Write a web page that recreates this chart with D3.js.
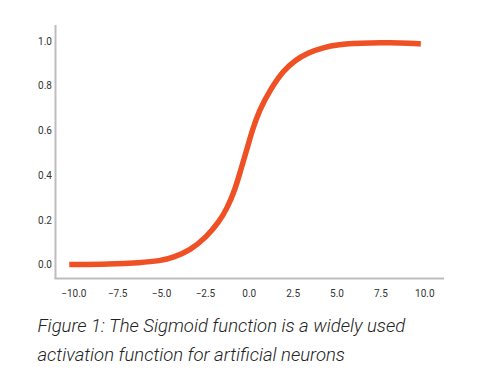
<!DOCTYPE html>
<html>
<head>
<meta charset="utf-8">
<script src="https://cdn.jsdelivr.net/npm/d3@7"></script>
<style>
  html, body { margin: 0; padding: 0; background: #fff; }
  svg { display: block; }
  .axis-label { font-family: Roboto, "Noto Sans", sans-serif; font-size: 10px; fill: #333; }
  .caption { font-family: Roboto, "Open Sans", sans-serif; font-size: 18.5px; font-style: italic; font-weight: 300; fill: #222; }
</style>
</head>
<body>
<svg id="chart" width="477" height="387"></svg>
<script>
// values
var sigmoidX = [-10.23, -7.91, -6.2, -5.06, -4.3, -3.35, -2.4, -1.7, -1.24, -0.79, -0.46, -0.12,
  0.2, 0.6, 1.21, 1.97, 2.63, 3.3, 4.25, 5.2, 5.9, 6.91, 8.05, 9.19, 9.8];
var sigmoidY = [0.0, 0.002, 0.008, 0.016, 0.032, 0.063, 0.124, 0.19, 0.251, 0.333, 0.423, 0.512,
  0.602, 0.691, 0.781, 0.868, 0.913, 0.945, 0.972, 0.984, 0.989, 0.992, 0.992, 0.99, 0.987];
var xTicks = [-10, -7.5, -5, -2.5, 0, 2.5, 5, 7.5, 10];
var yTicks = [0, 0.2, 0.4, 0.6, 0.8, 1.0];
var captionLines = [
  'Figure 1: The Sigmoid function is a widely used',
  'activation function for artificial neurons'
];

var svg = d3.select('#chart');

var x = d3.scaleLinear().domain([-10, 10]).range([73.3, 424.3]);
var y = d3.scaleLinear().domain([0, 1]).range([264.5, 41]);

var points = sigmoidX.map(function (v, i) { return [v, sigmoidY[i]]; });

// frame: left and bottom lines only
var frame = svg.append('g').attr('class', 'frame');
frame.append('line')
  .attr('x1', 55.5).attr('x2', 55.5)
  .attr('y1', 25).attr('y2', 279)
  .attr('stroke', '#bdbdbd').attr('stroke-width', 2);
frame.append('line')
  .attr('x1', 54.5).attr('x2', 444)
  .attr('y1', 278.5).attr('y2', 278.5)
  .attr('stroke', '#bdbdbd').attr('stroke-width', 2);

var xAxis = d3.axisBottom(x)
  .tickValues(xTicks)
  .tickSize(0)
  .tickPadding(0)
  .tickFormat(d3.format('.1f'));
var gx = svg.append('g')
  .attr('transform', 'translate(0,293.5)')
  .call(xAxis);
gx.select('.domain').remove();
gx.selectAll('text').attr('class', 'axis-label').attr('dy', '0.32em').attr('fill', null);

var yAxis = d3.axisLeft(y)
  .tickValues(yTicks)
  .tickSize(0)
  .tickPadding(0)
  .tickFormat(d3.format('.1f'));
var gy = svg.append('g')
  .attr('transform', 'translate(52,0)')
  .call(yAxis);
gy.select('.domain').remove();
gy.selectAll('text').attr('class', 'axis-label').attr('fill', null);

var line = d3.line()
  .x(function (d) { return x(d[0]); })
  .y(function (d) { return y(d[1]); })
  .curve(d3.curveBasis);

svg.append('path')
  .datum(points)
  .attr('d', line)
  .attr('fill', 'none')
  .attr('stroke', '#ef5024')
  .attr('stroke-width', 5.5)
  .attr('stroke-linecap', 'butt')
  .attr('stroke-linejoin', 'round');

svg.selectAll('text.caption')
  .data(captionLines)
  .enter().append('text')
  .attr('class', 'caption')
  .attr('x', 37.5)
  .attr('y', function (d, i) { return 331.5 + i * 29.5; })
  .text(function (d) { return d; });
</script>
</body>
</html>
